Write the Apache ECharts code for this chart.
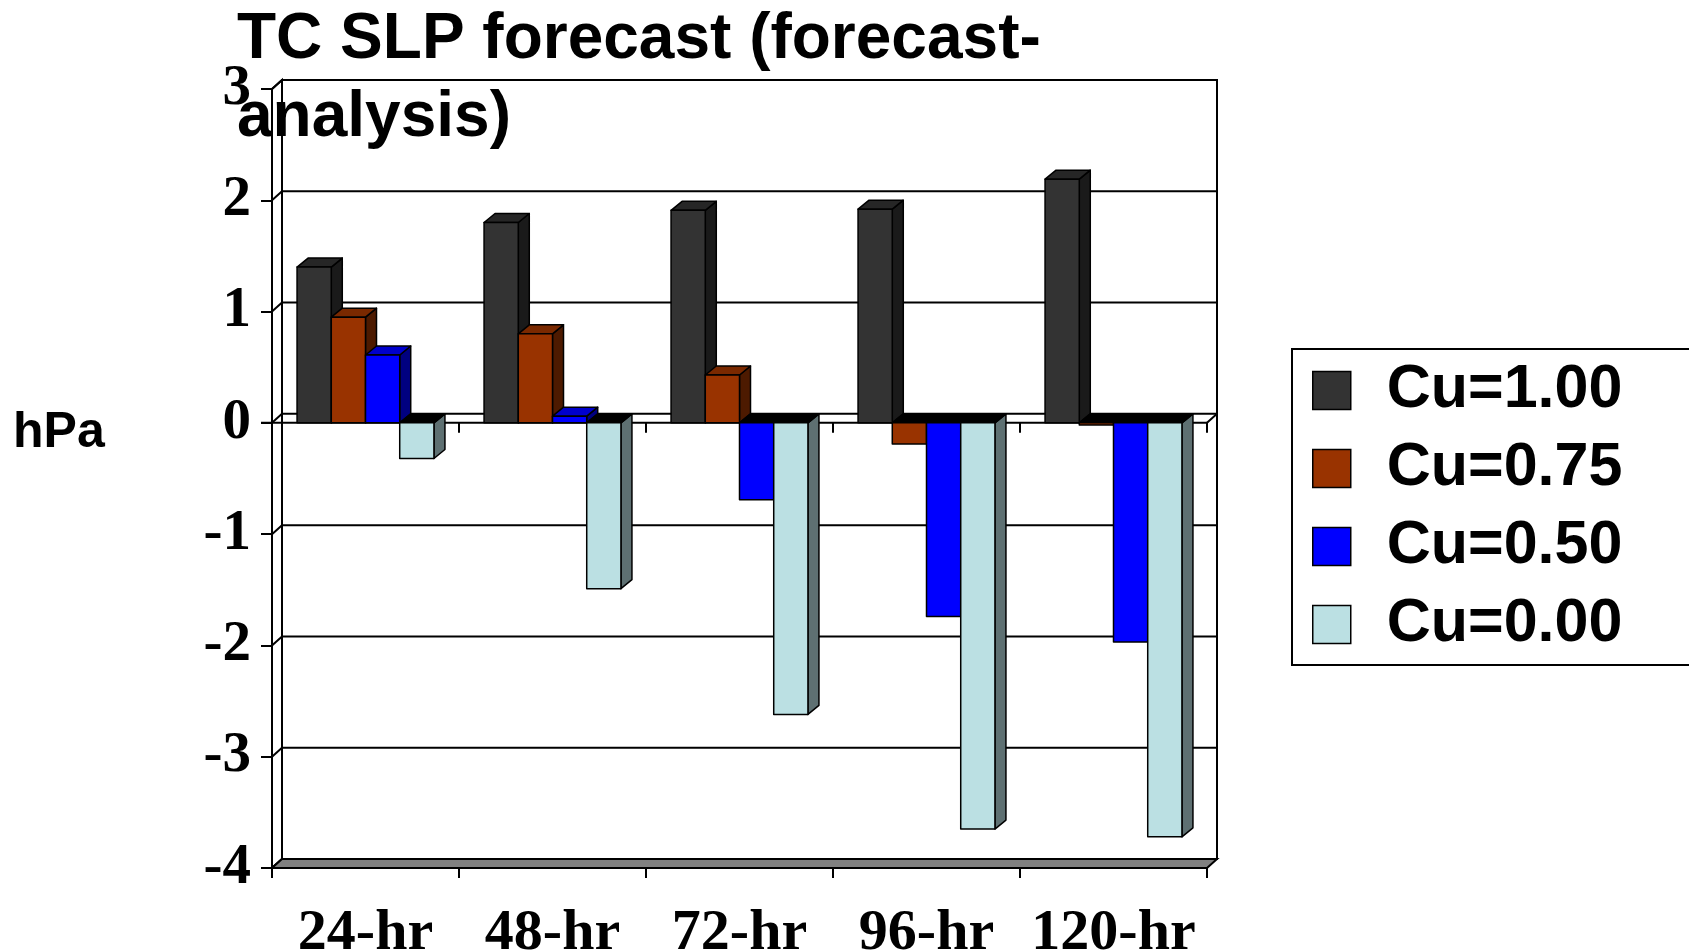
<!DOCTYPE html>
<html><head><meta charset="utf-8">
<script src="https://cdn.jsdelivr.net/npm/echarts@6/dist/echarts.min.js"></script>
<style>html,body{margin:0;padding:0;background:#fff}#c{width:1689px;height:951px}</style>
</head><body><div id="c"></div>
<script>
// ---- data ----
const categories = ['24-hr', '48-hr', '72-hr', '96-hr', '120-hr'];
const seriesNames = ['Cu=1.00', 'Cu=0.75', 'Cu=0.50', 'Cu=0.00'];
const cu100 = [1.40, 1.80, 1.91, 1.92, 2.19];
const cu075 = [0.95, 0.80, 0.43, -0.19, -0.02];
const cu050 = [0.61, 0.06, -0.69, -1.74, -1.97];
const cu000 = [-0.32, -1.49, -2.62, -3.65, -3.72];
const yMin = -4, yMax = 3, yStep = 1;
const titleText = 'TC SLP forecast (forecast-\nanalysis)';
const unitText = 'hPa';

// ---- styling ----
const palettes = [
  { front: '#333333', side: '#1a1a1a', top: '#262626' },
  { front: '#993300', side: '#4d1a00', top: '#7a2900' },
  { front: '#0000ff', side: '#000080', top: '#0000cc' },
  { front: '#bbe0e3', side: '#5e7072', top: '#95b3b5' }
];
const DX = 11, DY = -9;   // bar depth
const WX = 10, WY = -9;   // wall depth
const BAR_FRAC = 0.183;

function renderFrame(params, api) {
  const cs = params.coordSys;
  const L = cs.x, R = cs.x + cs.width;
  const T = api.coord([0, yMax])[1], B = api.coord([0, yMin])[1];
  const y0 = api.coord([0, 0])[1];
  const band = api.size([1, 0])[0];
  const ln = { stroke: '#000', lineWidth: 2 };
  const ch = [];
  ch.push({ type: 'rect', shape: { x: L + WX, y: T + WY, width: R - L, height: B - T },
    style: { fill: null, stroke: '#000', lineWidth: 2 } });
  for (let v = yMin + yStep; v < yMax; v += yStep) {
    const y = api.coord([0, v])[1];
    ch.push({ type: 'line', shape: { x1: L + WX, y1: y + WY, x2: R + WX, y2: y + WY }, style: ln });
  }
  ch.push({ type: 'polygon', shape: { points: [[L, T], [L + WX, T + WY], [L + WX, B + WY], [L, B]] },
    style: { fill: null, stroke: '#000', lineWidth: 2 } });
  for (let v = yMin; v <= yMax; v += yStep) {
    const y = api.coord([0, v])[1];
    ch.push({ type: 'line', shape: { x1: L, y1: y, x2: L + WX, y2: y + WY }, style: ln });
  }
  ch.push({ type: 'polygon', shape: { points: [[L, B], [L + WX, B + WY], [R + WX, B + WY], [R, B]] },
    style: { fill: '#808080', stroke: '#000', lineWidth: 2 } });
  ch.push({ type: 'line', shape: { x1: L - 11, y1: y0, x2: R, y2: y0 }, style: ln });
  ch.push({ type: 'line', shape: { x1: R, y1: y0, x2: R + WX, y2: y0 + WY }, style: ln });
  for (let i = 1; i <= categories.length; i++) {
    const x = L + i * band;
    ch.push({ type: 'line', shape: { x1: x, y1: y0, x2: x, y2: y0 + 10 }, style: ln });
  }
  return { type: 'group', children: ch };
}

function makeBar(k) {
  const p = palettes[k];
  return function (params, api) {
    const ci = api.value(0), v = api.value(1);
    const band = api.size([1, 0])[0];
    const w = band * BAR_FRAC;
    const c = api.coord([ci, 0]);
    const cv = api.coord([ci, v]);
    const x0 = c[0] - 2 * w + k * w, x1 = x0 + w;
    const top = Math.min(c[1], cv[1]), bot = Math.max(c[1], cv[1]);
    const st = { stroke: '#000', lineWidth: 1.5, lineJoin: 'round' };
    return {
      type: 'group',
      children: [
        { type: 'polygon', shape: { points: [[x1, top], [x1 + DX, top + DY], [x1 + DX, bot + DY], [x1, bot]] },
          style: Object.assign({ fill: p.side }, st) },
        { type: 'polygon', shape: { points: [[x0, top], [x0 + DX, top + DY], [x1 + DX, top + DY], [x1, top]] },
          style: Object.assign({ fill: v >= 0 ? p.top : '#000' }, st) },
        { type: 'rect', shape: { x: x0, y: top, width: w, height: bot - top },
          style: Object.assign({ fill: p.front }, st) }
      ]
    };
  };
}

const allValues = [cu100, cu075, cu050, cu000];
const chart = echarts.init(document.getElementById('c'));
const option = {
  backgroundColor: '#fff',
  animation: false,
  title: [
    { text: titleText, left: 237, top: 1, padding: 0, z: 0,
      textStyle: { fontFamily: 'Liberation Sans', fontWeight: 'bold', fontSize: 64, lineHeight: 78, color: '#000' } },
    { text: unitText, left: 13, top: 408, padding: 0,
      textStyle: { fontFamily: 'Liberation Sans', fontWeight: 'bold', fontSize: 50, lineHeight: 50, color: '#000' } }
  ],
  legend: {
    orient: 'vertical', left: 1292, top: 349,
    padding: [11, 80, 10, 20],
    itemWidth: 38, itemHeight: 38, itemGap: 17,
    icon: 'rect',
    borderColor: '#000', borderWidth: 2, backgroundColor: '#fff',
    textStyle: { fontFamily: 'Liberation Sans', fontWeight: 'bold', fontSize: 61, lineHeight: 60,
      color: '#000', padding: [0, 0, 0, 31] },
    data: seriesNames.map((n, k) => ({ name: n, itemStyle: { color: palettes[k].front, borderColor: '#000', borderWidth: 1.5 } }))
  },
  grid: { left: 272, top: 89, width: 935, height: 779, containLabel: false, outerBoundsMode: 'none' },
  xAxis: {
    type: 'category', data: categories, boundaryGap: true,
    axisLine: { onZero: false, lineStyle: { color: '#000', width: 2 } },
    axisTick: { show: true, length: 10, alignWithLabel: false, lineStyle: { color: '#000', width: 2 } },
    axisLabel: { interval: 0, margin: 37, color: '#000', fontFamily: 'Liberation Serif', fontWeight: 'bold', fontSize: 58 },
    splitLine: { show: false }
  },
  yAxis: {
    type: 'value', min: yMin, max: yMax, interval: yStep,
    axisLine: { show: true, lineStyle: { color: '#000', width: 2 } },
    axisTick: { show: true, length: 11, lineStyle: { color: '#000', width: 2 } },
    axisLabel: { margin: 21, color: '#000', fontFamily: 'Liberation Serif', fontWeight: 'bold', fontSize: 57 },
    splitLine: { show: false }
  },
  series: [
    { type: 'custom', name: 'frame', silent: true, z: 1, data: [[0, 0]], renderItem: renderFrame }
  ].concat(allValues.map((vals, k) => ({
    type: 'custom', name: seriesNames[k], z: 3 + k,
    itemStyle: { color: palettes[k].front, borderColor: '#000', borderWidth: 1.5 },
    data: vals.map((v, i) => [i, v]),
    renderItem: makeBar(k)
  })))
};
chart.setOption(option);
</script></body></html>
